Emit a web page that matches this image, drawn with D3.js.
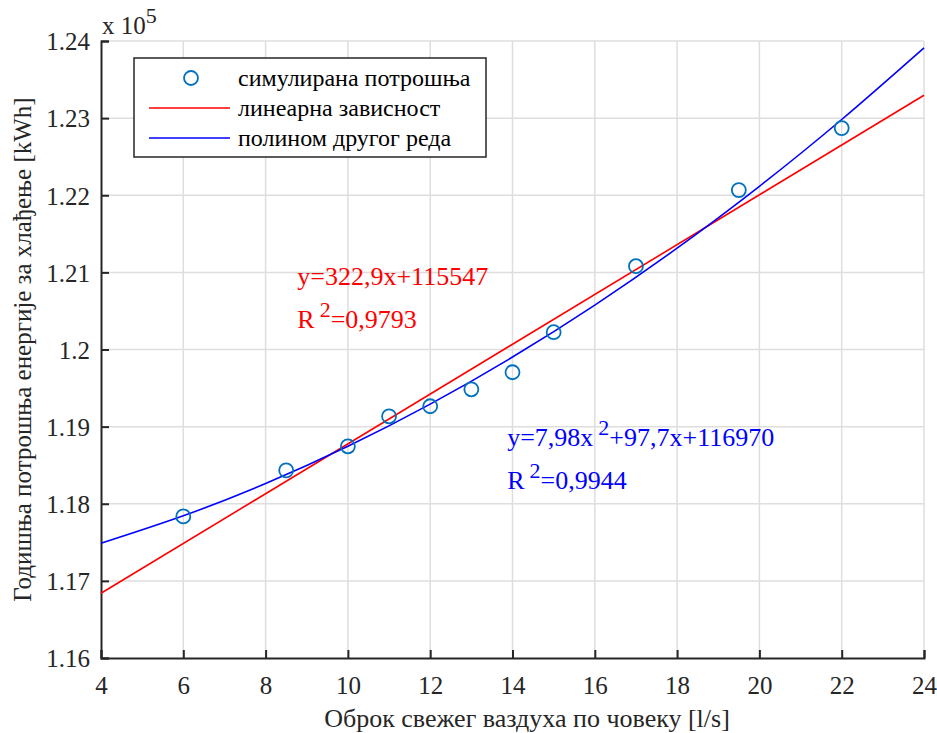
<!DOCTYPE html>
<html>
<head>
<meta charset="utf-8">
<script src="https://cdn.jsdelivr.net/npm/d3@7"></script>
<style>
  body { margin: 0; background: #fff; }
  svg text { font-family: "Liberation Serif", "Tinos", "DejaVu Serif", "Times New Roman", serif; }
</style>
</head>
<body>
<svg id="chart" width="937" height="733"></svg>
<script>
// simulated points
const airFlow = [6, 8.5, 10, 11, 12, 13, 14, 15, 17, 19.5, 22];
const energy = [117836, 118433, 118745, 119134, 119264, 119484, 119705, 120224, 121080, 122067, 122871];

// linear fit, read at the ends of the axis
const linX = [4, 24];
const linY = [116839, 123297];

// second order fit, read along the axis
const polyX = [4, 6, 8, 10, 12, 14, 16, 18, 20, 22, 24];
const polyY = [117488, 117844, 118262, 118745, 119292, 119902, 120576, 121314, 122116, 122982, 123911];

const xTicks = [4, 6, 8, 10, 12, 14, 16, 18, 20, 22, 24];
const yTicks = [116000, 117000, 118000, 119000, 120000, 121000, 122000, 123000, 124000];

const legendLabels = ['симулирана потрошња', 'линеарна зависност', 'полином другог реда'];

const margin = {left: 101, right: 13, top: 41, bottom: 75};
const width = 937, height = 733;
const serif = '"Liberation Serif", "Tinos", "DejaVu Serif", "Times New Roman", serif';

const svg = d3.select('svg#chart').attr('font-family', serif);

const x = d3.scaleLinear().domain([4, 24]).range([margin.left, width - margin.right]);
const y = d3.scaleLinear().domain([116000, 124000]).range([height - margin.bottom, margin.top]);

const axisColor = '#262626';

// grid
const grid = svg.append('g').attr('class', 'grid');
grid.selectAll('line.gx').data(xTicks.slice(1)).enter()
  .append('line')
  .attr('x1', (d) => x(d)).attr('x2', (d) => x(d))
  .attr('y1', y.range()[0]).attr('y2', y.range()[1])
  .attr('stroke', '#dedede').attr('stroke-width', 1.5);
grid.selectAll('line.gy').data(yTicks.slice(1)).enter()
  .append('line')
  .attr('x1', x.range()[0]).attr('x2', x.range()[1])
  .attr('y1', (d) => y(d)).attr('y2', (d) => y(d))
  .attr('stroke', '#dedede').attr('stroke-width', 1.5);

// axes
const xAxis = d3.axisBottom(x).tickValues(xTicks).tickSize(-8).tickPadding(18);
const yAxis = d3.axisLeft(y).tickValues(yTicks).tickSize(-8).tickPadding(11)
  .tickFormat((d) => d3.format('.3~f')(d / 1e5));

const gx = svg.append('g')
  .attr('transform', `translate(0,${y.range()[0]})`)
  .call(xAxis);
const gy = svg.append('g')
  .attr('transform', `translate(${x.range()[0]},0)`)
  .call(yAxis);

[gx, gy].forEach((g) => {
  g.attr('font-family', serif).attr('font-size', 25);
  g.select('.domain').attr('stroke', axisColor).attr('stroke-width', 2);
  g.selectAll('.tick line').attr('stroke', axisColor).attr('stroke-width', 2);
  g.selectAll('.tick text').attr('fill', axisColor);
});
gy.selectAll('.tick text').attr('dy', '0.35em');

// exponent
const expo = svg.append('text')
  .attr('x', 102).attr('y', 34)
  .attr('fill', axisColor)
  .attr('font-size', 25);
expo.append('tspan').text('x 10');
expo.append('tspan').attr('dy', -11).attr('font-size', 22).text('5');

// axis labels
svg.append('text')
  .attr('x', 527).attr('y', 727)
  .attr('text-anchor', 'middle')
  .attr('fill', axisColor)
  .attr('font-size', 26)
  .text('Оброк свежег ваздуха по човеку [l/s]');

svg.append('text')
  .attr('transform', `translate(31,${(y.range()[0] + y.range()[1]) / 2}) rotate(-90)`)
  .attr('text-anchor', 'middle')
  .attr('fill', axisColor)
  .attr('font-size', 25)
  .text('Годишња потрошња енергије за хлађење [kWh]');

// fit lines
const line = d3.line().x((d) => x(d[0])).y((d) => y(d[1]));
const polyLine = d3.line().x((d) => x(d[0])).y((d) => y(d[1])).curve(d3.curveNatural);

svg.append('path')
  .attr('d', line(d3.zip(linX, linY)))
  .attr('fill', 'none').attr('stroke', '#ff0000').attr('stroke-width', 1.6);

svg.append('path')
  .attr('d', polyLine(d3.zip(polyX, polyY)))
  .attr('fill', 'none').attr('stroke', '#0000ff').attr('stroke-width', 1.6);

// points
svg.selectAll('circle.pt').data(d3.zip(airFlow, energy)).enter()
  .append('circle')
  .attr('class', 'pt')
  .attr('cx', (d) => x(d[0])).attr('cy', (d) => y(d[1]))
  .attr('r', 7)
  .attr('fill', 'none')
  .attr('stroke', '#0072bd').attr('stroke-width', 1.8);

// equations, anchored in data units
function equation(px, py, color, parts) {
  const t = svg.append('text')
    .attr('x', x(px)).attr('y', y(py))
    .attr('fill', color)
    .attr('font-size', 26);
  parts.forEach((p) => {
    const s = t.append('tspan').text(p[0]);
    if (p[1] === 'sup') s.attr('dx', 5).attr('dy', -11).attr('font-size', 22);
    if (p[1] === 'back') s.attr('dy', 11);
  });
}
equation(8.77, 120834, '#ff0000', [['y=322,9x+115547']]);
equation(8.77, 120280, '#ff0000', [['R'], ['2', 'sup'], ['=0,9793', 'back']]);
equation(13.87, 118745, '#0000ff', [['y=7,98x'], ['2', 'sup'], ['+97,7x+116970', 'back']]);
equation(13.87, 118190, '#0000ff', [['R'], ['2', 'sup'], ['=0,9944', 'back']]);

// legend
const legend = svg.append('g').attr('transform', 'translate(134,58)');
legend.append('rect')
  .attr('width', 352).attr('height', 99)
  .attr('fill', '#fff')
  .attr('stroke', axisColor).attr('stroke-width', 1.5);
legend.append('circle')
  .attr('cx', 57).attr('cy', 20).attr('r', 7)
  .attr('fill', 'none').attr('stroke', '#0072bd').attr('stroke-width', 1.8);
legend.append('line')
  .attr('x1', 15).attr('x2', 96).attr('y1', 50).attr('y2', 50)
  .attr('stroke', '#ff0000').attr('stroke-width', 1.6);
legend.append('line')
  .attr('x1', 15).attr('x2', 96).attr('y1', 80).attr('y2', 80)
  .attr('stroke', '#0000ff').attr('stroke-width', 1.6);
legend.selectAll('text.lg').data(legendLabels).enter()
  .append('text')
  .attr('class', 'lg')
  .attr('x', 104).attr('y', (d, i) => 20 + i * 30)
  .attr('dy', '0.35em')
  .attr('fill', '#000')
  .attr('font-size', 24)
  .text((d) => d);
</script>
</body>
</html>
